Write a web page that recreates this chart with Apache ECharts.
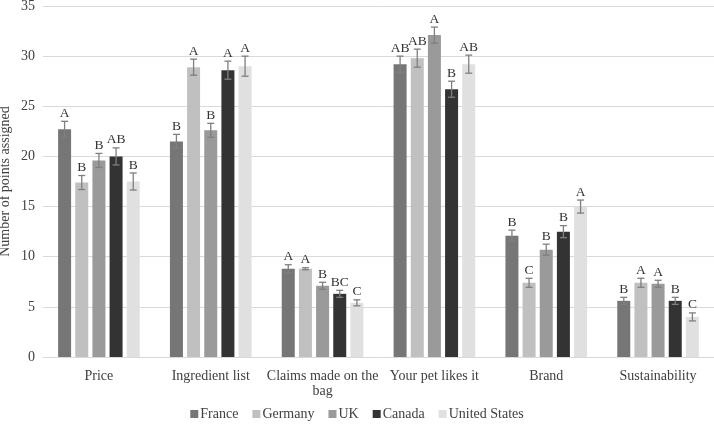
<!DOCTYPE html>
<html>
<head>
<meta charset="utf-8">
<script src="https://cdn.jsdelivr.net/npm/echarts@6/dist/echarts.min.js"></script>
<style>html,body{margin:0;padding:0;background:#fff}#c{width:714px;height:426px}</style>
</head>
<body>
<div id="c"></div>
<script>
var categories = ['Price', 'Ingredient list', 'Claims made on the\nbag', 'Your pet likes it', 'Brand', 'Sustainability'];
var countries = ['France', 'Germany', 'UK', 'Canada', 'United States'];
var yTicks = [0, 5, 10, 15, 20, 25, 30, 35];

var franceVals  = [22.7, 21.5, 8.8, 29.2, 12.1, 5.6];
var germanyVals = [17.4, 28.9, 8.8, 29.8, 7.4, 7.4];
var ukVals      = [19.6, 22.6, 7.1, 32.1, 10.7, 7.3];
var canadaVals  = [20.0, 28.6, 6.3, 26.7, 12.5, 5.6];
var usVals      = [17.5, 29.0, 5.4, 29.2, 15.0, 4.0];

var franceErr  = [0.8, 0.7, 0.4, 0.8, 0.55, 0.35];
var germanyErr = [0.7, 0.8, 0.1, 0.9, 0.45, 0.45];
var ukErr      = [0.7, 0.7, 0.35, 0.8, 0.55, 0.35];
var canadaErr  = [0.85, 0.9, 0.35, 0.8, 0.6, 0.35];
var usErr      = [0.85, 1.0, 0.3, 0.9, 0.65, 0.4];

var franceLet  = ['A', 'B', 'A', 'AB', 'B', 'B'];
var germanyLet = ['B', 'A', 'A', 'AB', 'C', 'A'];
var ukLet      = ['B', 'B', 'B', 'A', 'B', 'A'];
var canadaLet  = ['AB', 'A', 'BC', 'B', 'B', 'B'];
var usLet      = ['B', 'A', 'C', 'AB', 'A', 'C'];

var allVals = [franceVals, germanyVals, ukVals, canadaVals, usVals];
var allErr = [franceErr, germanyErr, ukErr, canadaErr, usErr];
var allLet = [franceLet, germanyLet, ukLet, canadaLet, usLet];
var colors = ['#767676', '#c0c0c0', '#9a9a9a', '#333333', '#e0e0e0'];

var FONT = '"Liberation Serif", "Times New Roman", serif';
var BAR_W = 13;
var BAR_GAP = 0.32;

var chart = echarts.init(document.getElementById('c'));
var series = [];
countries.forEach(function (name, i) {
  series.push({
    name: name,
    type: 'bar',
    data: allVals[i],
    barWidth: BAR_W,
    barGap: (BAR_GAP * 100) + '%',
    itemStyle: { color: colors[i] },
    z: 2
  });
});
countries.forEach(function (name, i) {
  var data = allVals[i].map(function (v, k) { return [k, v, allErr[i][k]]; });
  series.push({
    type: 'custom',
    name: name + '_err',
    data: data,
    z: 5,
    silent: true,
    renderItem: function (params, api) {
      var k = api.value(0), v = api.value(1), e = api.value(2);
      var letter = allLet[i][params.dataIndex];
      var c = api.coord([k, v]);
      var off = (i - 2) * BAR_W * (1 + BAR_GAP);
      var x = c[0] + off;
      var top = api.coord([k, v + e])[1];
      var bot = api.coord([k, v - e])[1];
      var st = { stroke: '#7f7f7f', lineWidth: 1.3 };
      return {
        type: 'group',
        children: [
          { type: 'line', shape: { x1: x, y1: top, x2: x, y2: bot }, style: st },
          { type: 'line', shape: { x1: x - 3.5, y1: top, x2: x + 3.5, y2: top }, style: st },
          { type: 'line', shape: { x1: x - 3.5, y1: bot, x2: x + 3.5, y2: bot }, style: st },
          { type: 'text', style: { text: letter, x: x, y: top - 1, align: 'center', verticalAlign: 'bottom', fontFamily: FONT, fontSize: 13.5, fill: '#333333' } }
        ]
      };
    }
  });
});

chart.setOption({
  animation: false,
  backgroundColor: '#ffffff',
  grid: { left: 43, right: 0, top: 6, bottom: 69, containLabel: false, outerBoundsMode: 'none' },
  legend: {
    data: countries,
    bottom: 0,
    left: 'center',
    icon: 'rect',
    itemWidth: 8,
    itemHeight: 8,
    itemGap: 14,
    textStyle: { fontFamily: FONT, fontSize: 14, color: '#404040', padding: [0, 0, 0, -3] }
  },
  xAxis: {
    type: 'category',
    data: categories,
    axisTick: { show: false },
    axisLine: { lineStyle: { color: '#d9d9d9', width: 1 } },
    axisLabel: { fontFamily: FONT, fontSize: 14, color: '#404040', margin: 12, lineHeight: 15, interval: 0 }
  },
  yAxis: {
    type: 'value',
    min: yTicks[0],
    max: yTicks[yTicks.length - 1],
    interval: 5,
    name: 'Number of points assigned',
    nameLocation: 'middle',
    nameGap: 31,
    nameMoveOverlap: false,
    nameTextStyle: { fontFamily: FONT, fontSize: 14, color: '#404040' },
    axisLine: { show: false },
    axisTick: { show: false },
    splitLine: { lineStyle: { color: '#d9d9d9', width: 1 } },
    axisLabel: { fontFamily: FONT, fontSize: 14, color: '#404040', margin: 8 }
  },
  series: series
});
</script>
</body>
</html>
